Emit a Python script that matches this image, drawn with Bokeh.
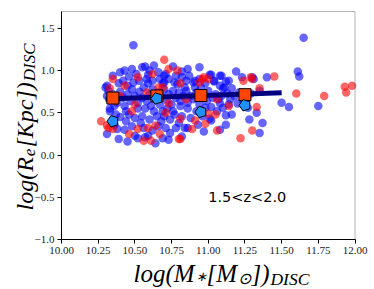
import math
from bokeh.plotting import figure
from bokeh.models import Label, Range1d, FixedTicker, BoxAnnotation
from bokeh.embed import file_html
from bokeh.resources import INLINE

# ---------------- data ----------------
blue_x = [10.49, 10.31, 10.39, 10.50, 10.57, 11.65, 11.61, 11.62, 11.75, 11.55,
          11.50, 11.40, 11.31, 11.23, 11.19, 11.35, 11.33, 11.28, 11.37, 11.35,
          11.16, 11.20, 11.08, 11.02, 11.08, 11.12, 10.91, 11.04, 11.11, 11.16,
          11.02, 11.02, 10.86, 11.30, 10.55, 10.57, 10.63, 10.46, 10.51, 10.59,
          10.35, 10.30, 10.39, 10.45, 10.59, 10.69, 10.71, 10.76, 10.70, 10.78,
          10.87, 10.82, 11.01, 11.09, 10.70, 10.77, 10.90, 11.04, 11.08, 11.14,
          10.84, 10.98, 10.91, 10.32, 10.33, 10.44, 10.52, 10.57, 10.63, 10.69,
          10.38, 10.48, 10.54, 10.62, 10.59, 10.52, 10.71, 10.69, 10.76, 10.86,
          11.01, 10.78, 10.84, 10.73, 10.74, 11.12, 11.10, 10.72, 10.81, 10.31,
          10.31, 10.33,
          10.35, 10.38, 10.40, 10.42, 10.43, 10.45, 10.47, 10.48, 10.50, 10.52,
          10.53, 10.55, 10.56, 10.58, 10.60, 10.61, 10.62, 10.64, 10.66, 10.67,
          10.68, 10.70, 10.72, 10.73, 10.75, 10.76, 10.78, 10.80, 10.81, 10.83,
          10.85, 10.86, 10.88, 10.90, 10.92, 10.94, 10.95, 10.97, 10.99, 11.00,
          11.03, 11.05, 11.07, 11.09, 11.13, 11.15, 11.18, 11.21, 11.26, 11.29,
          10.33, 10.36, 10.37, 10.40, 10.42, 10.44, 10.46, 10.49, 10.50, 10.53,
          10.55, 10.58, 10.60, 10.62, 10.65, 10.67, 10.68, 10.70, 10.73, 10.74,
          10.77, 10.79, 10.82, 10.85, 10.88, 10.92, 10.94, 10.96, 10.98, 11.06,
          11.10, 11.14, 11.24, 11.27, 10.40, 10.43, 10.48, 10.60, 10.66, 10.82,
          10.86, 10.94, 10.36, 10.43, 10.56, 10.66, 10.80, 10.93, 10.97, 11.08,
          10.45, 10.64, 10.82, 11.12]
blue_y = [1.30, 0.25, 0.19, 0.23, 0.21, 1.39, 0.99, 0.93, 0.58, 0.57,
          0.62, 0.92, 0.90, 0.92, 0.99, 0.76, 0.50, 0.42, 0.38, 0.26,
          0.48, 0.61, 0.61, 0.95, 0.94, 0.87, 0.88, 0.88, 0.80, 0.79,
          0.57, 0.41, 0.32, 0.92, 1.04, 1.05, 1.06, 0.93, 0.96, 0.95,
          0.94, 0.80, 0.85, 0.82, 0.85, 0.85, 0.96, 1.05, 0.94, 0.94,
          0.94, 0.92, 0.95, 0.94, 0.86, 0.86, 0.86, 0.87, 0.82, 0.88,
          0.80, 0.85, 0.80, 0.76, 0.52, 0.52, 0.55, 0.55, 0.52, 0.52,
          0.31, 0.34, 0.38, 0.29, 0.23, 0.20, 0.32, 0.20, 0.52, 0.55,
          0.43, 0.32, 0.32, 0.18, 0.26, 0.47, 0.79, 0.55, 0.58, 0.82,
          0.70, 0.55,
          0.72, 0.62, 0.75, 0.68, 0.58, 0.72, 0.64, 0.78, 0.70, 0.62,
          0.75, 0.68, 0.80, 0.64, 0.72, 0.58, 0.78, 0.66, 0.74, 0.60,
          0.70, 0.78, 0.65, 0.72, 0.60, 0.76, 0.68, 0.74, 0.64, 0.70,
          0.76, 0.62, 0.70, 0.66, 0.74, 0.60, 0.80, 0.70, 0.64, 0.76,
          0.68, 0.72, 0.66, 0.70, 0.73, 0.66, 0.70, 0.74, 0.68, 0.73,
          0.65, 0.58, 0.48, 0.45, 0.88, 0.40, 0.48, 0.86, 0.44, 0.88,
          0.46, 0.90, 0.42, 0.88, 0.46, 0.90, 0.40, 0.46, 0.90, 0.42,
          0.48, 0.84, 0.46, 0.88, 0.44, 0.52, 0.90, 0.46, 0.56, 0.52,
          0.56, 0.60, 0.64, 0.56, 0.98, 1.00, 1.02, 1.00, 0.98, 0.99,
          1.02, 1.04, 0.36, 0.30, 0.32, 0.34, 0.38, 0.36, 0.28, 0.30,
          0.16, 0.14, 0.22, 0.36]

red_x = [10.70, 10.35, 10.46, 10.61, 10.81, 11.60, 11.79, 11.93, 11.94, 11.98,
         11.45, 11.30, 11.24, 11.35, 11.33, 11.30, 11.22, 11.14, 11.06, 11.05,
         11.00, 10.96, 11.06, 11.00, 10.98, 10.89, 11.29, 10.62, 10.33, 10.52,
         10.66, 10.73, 10.79, 10.97, 10.94, 10.81, 10.69, 10.48, 10.32, 10.35,
         10.52, 10.59, 10.64, 10.67, 10.56, 10.73, 10.81, 10.91, 10.80, 10.71,
         10.31, 10.40, 10.50, 10.58, 10.85, 10.43, 10.27, 10.37]
red_y = [1.13, 0.90, 0.25, 0.17, 0.19, 0.73, 0.70, 0.81, 0.74, 0.82,
         0.93, 0.90, 0.88, 0.79, 0.57, 0.29, 0.20, 0.58, 0.29, 0.48,
         0.90, 0.90, 0.66, 0.49, 0.37, 0.31, 0.92, 0.96, 0.79, 0.92,
         0.80, 1.02, 1.00, 0.92, 0.86, 0.85, 0.80, 0.52, 0.32, 0.31,
         0.31, 0.32, 0.35, 0.25, 0.17, 0.61, 0.43, 0.41, 0.19, 0.50,
         0.35, 0.70, 0.60, 0.74, 0.66, 0.82, 0.40, 0.64]

bin_x = [10.35, 10.65, 10.95, 11.25]
square_y = [0.675, 0.70, 0.705, 0.715]
pentagon_y = [0.40, 0.67, 0.51, 0.59]

fit_x = [10.30, 11.50]
fit_y = [0.665, 0.738]

x_lo, x_hi = 10.0, 12.0
y_lo, y_hi = -1.0, 1.7
x_ticks = [10.0, 10.25, 10.5, 10.75, 11.0, 11.25, 11.5, 11.75, 12.0]
x_tick_labels = ["10.00", "10.25", "10.50", "10.75", "11.00", "11.25", "11.50", "11.75", "12.00"]
y_ticks = [-1.0, -0.5, 0.0, 0.5, 1.0, 1.5]
y_tick_labels = ["\u22121.0", "\u22120.5", "0.0", "0.5", "1.0", "1.5"]

annotation = "1.5<z<2.0"

# ---------------- layout: frame fills the canvas, axes placed at box edges ----------------
W_PX, H_PX = 374, 289
BOX_L, BOX_R, BOX_T, BOX_B = 61.0, 354.5, 11.0, 239.0   # axes box in pixels
sx_per = (BOX_R - BOX_L) / (x_hi - x_lo)
sy_per = (BOX_B - BOX_T) / (y_hi - y_lo)
xr = Range1d(x_lo - BOX_L / sx_per, x_hi + (W_PX - BOX_R) / sx_per)
yr = Range1d(y_lo - (H_PX - BOX_B) / sy_per, y_hi + BOX_T / sy_per)

p = figure(width=W_PX, height=H_PX, x_range=xr, y_range=yr,
           output_backend="svg", toolbar_location=None,
           min_border=0, min_border_left=0, min_border_right=0,
           min_border_top=0, min_border_bottom=0)

p.xgrid.visible = False
p.ygrid.visible = False
p.outline_line_color = None
p.background_fill_color = "white"
p.border_fill_color = "white"

p.xaxis.fixed_location = y_lo
p.yaxis.fixed_location = x_lo
p.xaxis.bounds = (x_lo, x_hi)
p.yaxis.bounds = (y_lo, y_hi)

for ax, ticks, labels in ((p.xaxis, x_ticks, x_tick_labels), (p.yaxis, y_ticks, y_tick_labels)):
    ax.ticker = FixedTicker(ticks=ticks)
    ax.major_label_overrides = {t: l for t, l in zip(ticks, labels)}
    ax.minor_tick_line_color = None
    ax.major_tick_in = 0
    ax.major_tick_out = 4
    ax.axis_line_color = "black"
    ax.axis_line_width = 1
    ax.major_tick_line_color = "black"
    ax.major_label_text_font = "Liberation Serif"
    ax.major_label_text_font_size = "11px"
    ax.major_label_text_color = "#222222"
    ax.major_label_standoff = 3

# axes box
p.add_layout(BoxAnnotation(left=x_lo, right=x_hi, bottom=y_lo, top=y_hi,
                           fill_alpha=0, line_color="black", line_width=1))

# scatter clouds
p.scatter(blue_x, blue_y, size=8.5, fill_color="#0000ff", fill_alpha=0.6, line_color=None)
p.scatter(red_x, red_y, size=8.5, fill_color="#ff0000", fill_alpha=0.6, line_color=None)

# fit line
p.line(fit_x, fit_y, line_color="#000080", line_width=5)

# binned medians
p.scatter(bin_x, square_y, marker="square", size=12, fill_color="#ff4500",
          line_color="black", line_width=1)
try:
    p.ngon(x=bin_x, y=pentagon_y, radius=6, radius_units="screen", n=5,
           angle=math.pi / 2, fill_color="#1e90ff", line_color="black", line_width=1)
except Exception:
    p.scatter(bin_x, pentagon_y, marker="hex", size=11, fill_color="#1e90ff",
              line_color="black", line_width=1)

# annotation text
p.add_layout(Label(x=11.0, y=-0.5, text=annotation, text_font="DejaVu Sans",
                   text_font_size="14.5px", text_color="black", text_baseline="alphabetic"))

# ---------------- axis labels built from pieces (math-like) ----------------
W = {'l': 0.278, 'o': 0.5, 'g': 0.5, '(': 0.333, ')': 0.333, 'M': 0.833, '[': 0.389,
     ']': 0.389, 'R': 0.611, 'e': 0.444, 'K': 0.667, 'p': 0.5, 'c': 0.444, 'D': 0.722,
     'I': 0.333, 'S': 0.5, 'C': 0.667, '\u2217': 0.6, '\u2299': 0.78}


def tw(s, size):
    return sum(W.get(ch, 0.5) for ch in s) * size


def add_piece(x, y, txt, size, angle=0.0):
    p.add_layout(Label(x=x, y=y, x_units="screen", y_units="screen", angle=angle,
                       text=txt, text_font="Liberation Serif", text_font_style="italic",
                       text_font_size=f"{size}px", text_color="black",
                       text_baseline="alphabetic", text_align="left"))


# (text, size, drop below baseline, gap before)
x_parts = [("log(M", 25, 0, 0), ("\u2217", 13, 3, 1), ("[M", 25, 0, 3),
           ("\u2299", 16, 5, 1), ("])", 25, 0, 1), ("DISC", 17.5, 5, 1)]
y_parts = [("log(R", 24, 0, 0), ("e", 17, 5, 1), ("[Kpc])", 24, 0, 1), ("DISC", 17, 5, 1)]

# x label: start x, baseline y (screen units from canvas bottom-left)
cx, by = 133, H_PX - 273
for txt, size, drop, gap in x_parts:
    cx += gap
    add_piece(cx, by - drop, txt, size)
    cx += tw(txt, size)

# y label (rotated, reads upward)
bx, cy = 24, H_PX - 210
for txt, size, drop, gap in y_parts:
    cy += gap
    add_piece(bx + drop, cy, txt, size, angle=math.pi / 2)
    cy += tw(txt, size)

open("out.html", "w").write(file_html(p, INLINE))
